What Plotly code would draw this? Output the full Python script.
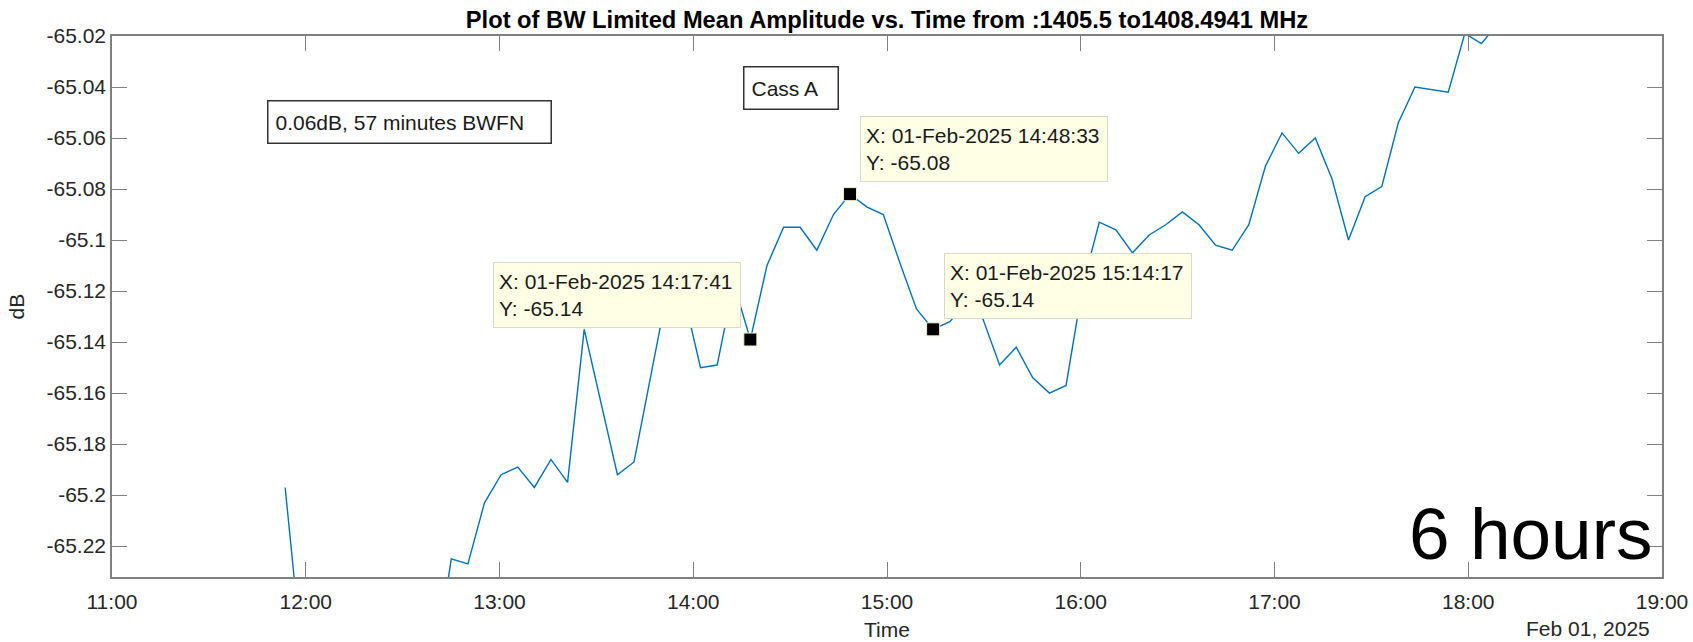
import plotly.graph_objects as go

# ---------------- data ----------------
times = [
    "2025-02-01 11:53:37", "2025-02-01 11:58:45", "2025-02-01 12:03:54", "2025-02-01 12:09:03",
    "2025-02-01 12:14:12", "2025-02-01 12:19:20", "2025-02-01 12:24:29", "2025-02-01 12:29:38",
    "2025-02-01 12:34:46", "2025-02-01 12:39:55", "2025-02-01 12:45:04", "2025-02-01 12:50:13",
    "2025-02-01 12:55:21", "2025-02-01 13:00:30", "2025-02-01 13:05:39", "2025-02-01 13:10:48",
    "2025-02-01 13:15:56", "2025-02-01 13:21:05", "2025-02-01 13:26:14", "2025-02-01 13:31:22",
    "2025-02-01 13:36:31", "2025-02-01 13:41:40", "2025-02-01 13:46:49", "2025-02-01 13:51:57",
    "2025-02-01 13:57:06", "2025-02-01 14:02:15", "2025-02-01 14:07:24", "2025-02-01 14:12:32",
    "2025-02-01 14:17:41", "2025-02-01 14:22:50", "2025-02-01 14:27:58", "2025-02-01 14:33:07",
    "2025-02-01 14:38:16", "2025-02-01 14:43:25", "2025-02-01 14:48:33", "2025-02-01 14:53:42",
    "2025-02-01 14:58:51", "2025-02-01 15:04:00", "2025-02-01 15:09:08", "2025-02-01 15:14:17",
    "2025-02-01 15:19:26", "2025-02-01 15:24:34", "2025-02-01 15:29:43", "2025-02-01 15:34:52",
    "2025-02-01 15:40:01", "2025-02-01 15:45:09", "2025-02-01 15:50:18", "2025-02-01 15:55:27",
    "2025-02-01 16:00:36", "2025-02-01 16:05:44", "2025-02-01 16:10:53", "2025-02-01 16:16:02",
    "2025-02-01 16:21:11", "2025-02-01 16:26:19", "2025-02-01 16:31:28", "2025-02-01 16:36:37",
    "2025-02-01 16:41:45", "2025-02-01 16:46:54", "2025-02-01 16:52:03", "2025-02-01 16:57:12",
    "2025-02-01 17:02:20", "2025-02-01 17:07:29", "2025-02-01 17:12:38", "2025-02-01 17:17:47",
    "2025-02-01 17:22:55", "2025-02-01 17:28:04", "2025-02-01 17:33:13", "2025-02-01 17:38:21",
    "2025-02-01 17:43:30", "2025-02-01 17:48:39", "2025-02-01 17:53:48", "2025-02-01 17:58:56",
    "2025-02-01 18:04:05", "2025-02-01 18:09:14", "2025-02-01 18:14:23",
]

amplitude_db = [
    -65.197, -65.262, -65.280, -65.290, -65.300, -65.300, -65.290, -65.280,
    -65.275, -65.268, -65.225, -65.227, -65.203, -65.192, -65.189, -65.197,
    -65.186, -65.195, -65.135, -65.163, -65.192, -65.187, -65.153, -65.120,
    -65.122, -65.150, -65.149, -65.117, -65.139, -65.110, -65.095, -65.095,
    -65.104, -65.090, -65.082, -65.087, -65.090, -65.109, -65.127, -65.135,
    -65.132, -65.125, -65.131, -65.149, -65.142, -65.154, -65.160, -65.157,
    -65.118, -65.093, -65.096, -65.105, -65.098, -65.094, -65.089, -65.094,
    -65.102, -65.104, -65.094, -65.071, -65.058, -65.066, -65.060, -65.076,
    -65.100, -65.083, -65.079, -65.054, -65.040, -65.041, -65.042, -65.019,
    -65.023, -65.015, -65.010,
]

# data tips (index into the arrays above) and their labels
tip_index = [28, 34, 39]
tip_x_text = ["01-Feb-2025 14:17:41", "01-Feb-2025 14:48:33", "01-Feb-2025 15:14:17"]
tip_y_text = ["-65.14", "-65.08", "-65.14"]

y_tick_vals = [-65.22, -65.20, -65.18, -65.16, -65.14, -65.12, -65.10, -65.08, -65.06, -65.04, -65.02]
y_tick_text = ["-65.22", "-65.2", "-65.18", "-65.16", "-65.14", "-65.12", "-65.1", "-65.08", "-65.06", "-65.04", "-65.02"]
x_tick_vals = ["2025-02-01 11:00", "2025-02-01 12:00", "2025-02-01 13:00", "2025-02-01 14:00",
               "2025-02-01 15:00", "2025-02-01 16:00", "2025-02-01 17:00", "2025-02-01 18:00",
               "2025-02-01 19:00"]
x_tick_text = ["11:00", "12:00", "13:00", "14:00", "15:00", "16:00", "17:00", "18:00", "19:00"]

title_text = "Plot of BW Limited Mean Amplitude vs. Time from :1405.5 to1408.4941 MHz"

# ---------------- figure ----------------
FONT = "Liberation Sans, Arial, sans-serif"
AX = "#808080"
TXT = "#262626"

fig = go.Figure()
fig.add_trace(go.Scatter(
    x=times, y=amplitude_db, mode="lines",
    line=dict(color="#0072BD", width=1.4), showlegend=False, hoverinfo="x+y",
))
fig.add_trace(go.Scatter(
    x=[times[i] for i in tip_index], y=[amplitude_db[i] for i in tip_index],
    mode="markers",
    marker=dict(symbol="square", size=13, color="black", line=dict(color="#f0f0c8", width=1)),
    showlegend=False, hoverinfo="skip",
))

annotations = []
# data-tip boxes
tip_pos = [
    dict(xanchor="right", xshift=-9, yshift=12),
    dict(xanchor="left", xshift=10, yshift=12),
    dict(xanchor="left", xshift=11, yshift=10),
]
for i, (idx, xt, yt) in enumerate(zip(tip_index, tip_x_text, tip_y_text)):
    p = tip_pos[i]
    annotations.append(dict(
        x=times[idx], y=amplitude_db[idx], xref="x", yref="y",
        text=f"X: {xt}<br>Y: {yt}", showarrow=False, align="left",
        xanchor=p["xanchor"], yanchor="bottom", xshift=p["xshift"], yshift=p["yshift"],
        bgcolor="#ffffe6", bordercolor="#d8d8cc", borderwidth=1, borderpad=5,
        width=236, height=54, valign="middle",
        font=dict(family=FONT, size=21, color="#1a1a1a"),
    ))

# text boxes
annotations.append(dict(
    x=(267 - 112) / 1550, y=(577.3 - 100) / 541.3, xref="paper", yref="paper",
    text="0.06dB, 57 minutes BWFN", showarrow=False, align="left",
    xanchor="left", yanchor="top", bgcolor="white", bordercolor="#333333",
    borderwidth=1.5, borderpad=7, width=268, height=27,
    font=dict(family=FONT, size=21, color="#1a1a1a"),
))
annotations.append(dict(
    x=(743 - 112) / 1550, y=(577.3 - 66) / 541.3, xref="paper", yref="paper",
    text="Cass A", showarrow=False, align="left",
    xanchor="left", yanchor="top", bgcolor="white", bordercolor="#333333",
    borderwidth=1.5, borderpad=7, width=79, height=27,
    font=dict(family=FONT, size=21, color="#1a1a1a"),
))
# big label
annotations.append(dict(
    x=1, y=0, xref="paper", yref="paper", text="6 hours", showarrow=False,
    xanchor="right", yanchor="bottom", xshift=-7, yshift=1,
    font=dict(family="Liberation Sans, Arial, sans-serif", size=73, color="black"),
))
# axis labels and date label
annotations.append(dict(
    x=0, y=0.5, xref="paper", yref="paper", text="dB", showarrow=False, textangle=-90,
    xanchor="center", yanchor="middle", xshift=-96,
    font=dict(family=FONT, size=21, color=TXT),
))
annotations.append(dict(
    x=0.5, y=0, xref="paper", yref="paper", text="Time", showarrow=False,
    xanchor="center", yanchor="middle", yshift=-52,
    font=dict(family=FONT, size=21, color=TXT),
))
annotations.append(dict(
    x=1, y=0, xref="paper", yref="paper", text="Feb 01, 2025", showarrow=False,
    xanchor="right", yanchor="middle", xshift=-10, yshift=-51,
    font=dict(family=FONT, size=21, color=TXT),
))

fig.update_layout(
    width=1693, height=642,
    margin=dict(l=112, r=31, t=36, b=64.7),
    paper_bgcolor="white", plot_bgcolor="white",
    title=dict(text=f"<b>{title_text}</b>", x=(887) / 1693, xanchor="center",
               y=1 - 20 / 642, yanchor="middle", yref="container",
               font=dict(family=FONT, size=23.7, color="black")),
    font=dict(family=FONT, size=21, color=TXT),
    annotations=annotations,
    xaxis=dict(
        range=["2025-02-01 11:00", "2025-02-01 19:00"],
        tickvals=x_tick_vals, ticktext=x_tick_text, automargin=False,
        ticks="inside", ticklen=15, tickwidth=1.2, tickcolor=AX,
        showline=True, linecolor=AX, linewidth=1.5, mirror="ticks",
        showgrid=False, zeroline=False, ticklabelstandoff=5,
        tickfont=dict(family=FONT, size=21, color=TXT),
    ),
    yaxis=dict(
        range=[-65.2321, -65.02], automargin=False,
        tickvals=y_tick_vals, ticktext=y_tick_text,
        ticks="inside", ticklen=15, tickwidth=1.2, tickcolor=AX,
        showline=True, linecolor=AX, linewidth=1.5, mirror="ticks",
        showgrid=False, zeroline=False,
        tickfont=dict(family=FONT, size=21, color=TXT),
    ),
)

fig.write_html("out.html")
